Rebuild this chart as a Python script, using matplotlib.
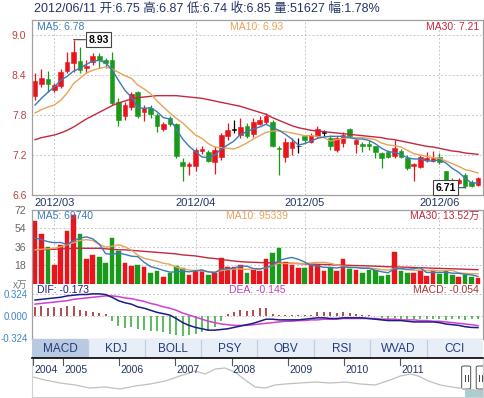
import matplotlib
matplotlib.use('Agg')
import matplotlib.pyplot as plt
from matplotlib.patches import Rectangle, FancyBboxPatch
import numpy as np

plt.rcParams['font.family'] = ['Liberation Sans', 'Noto Sans CJK SC', 'DejaVu Sans']

# ---------------- data ----------------
header_text = "2012/06/11 开:6.75 高:6.87 低:6.74 收:6.85 量:51627 幅:1.78%"
price_ma_labels = ["MA5: 6.78", "MA10: 6.93", "MA30: 7.21"]
vol_ma_labels = ["MA5: 69740", "MA10: 95339", "MA30: 13.52万"]
macd_labels = ["DIF: -0.173", "DEA: -0.145", "MACD: -0.054"]

opens = [8.08, 8.27, 8.34, 8.17, 8.24, 8.46, 8.58, 8.61, 8.50, 8.59,
         8.69, 8.63, 8.62, 8.00, 7.78, 7.92, 8.14, 7.84, 7.91, 7.80,
         7.59, 7.75, 7.66, 7.10, 7.03, 7.03, 7.26, 7.24, 7.09, 7.17,
         7.48, 7.58, 7.50, 7.63, 7.52, 7.67, 7.70, 7.69, 7.31, 7.17,
         7.30, 7.33, 7.48, 7.40, 7.48, 7.53, 7.46, 7.27, 7.38, 7.59,
         7.37, 7.36, 7.36, 7.33, 7.23, 7.25, 7.19, 7.26, 7.16, 7.03,
         7.02, 7.12, 7.11, 7.17, 6.96, 6.83, 6.78, 6.90, 6.80, 6.75]
highs = [8.43, 8.49, 8.46, 8.28, 8.49, 8.75, 8.93, 8.82, 8.63, 8.73,
         8.73, 8.66, 8.75, 8.05, 8.00, 8.15, 8.16, 7.95, 7.95, 7.83,
         7.69, 7.78, 7.68, 7.15, 7.10, 7.30, 7.33, 7.27, 7.33, 7.53,
         7.68, 7.73, 7.75, 7.68, 7.75, 7.78, 7.83, 7.73, 7.33, 7.45,
         7.45, 7.45, 7.50, 7.53, 7.64, 7.58, 7.50, 7.48, 7.55, 7.60,
         7.45, 7.39, 7.43, 7.33, 7.25, 7.27, 7.42, 7.29, 7.20, 7.08,
         7.20, 7.25, 7.26, 7.23, 6.96, 6.86, 6.86, 6.93, 6.82, 6.87]
lows = [8.03, 8.22, 8.15, 8.14, 8.20, 8.43, 8.45, 8.43, 8.43, 8.55,
        8.50, 8.50, 7.95, 7.63, 7.73, 7.88, 7.75, 7.71, 7.75, 7.55,
        7.56, 7.64, 7.15, 6.81, 6.90, 6.96, 7.22, 7.10, 6.91, 7.13,
        7.43, 7.53, 7.45, 7.45, 7.47, 7.65, 7.67, 7.32, 6.90, 7.10,
        7.20, 7.23, 7.38, 7.38, 7.45, 7.48, 7.27, 7.25, 7.32, 7.47,
        7.23, 7.25, 7.28, 7.15, 7.01, 7.15, 7.16, 7.15, 6.98, 6.81,
        7.00, 7.10, 7.09, 7.07, 6.80, 6.77, 6.77, 6.71, 6.72, 6.74]
closes = [8.31, 8.35, 8.26, 8.25, 8.44, 8.59, 8.75, 8.48, 8.54, 8.69,
          8.63, 8.58, 7.98, 7.73, 7.95, 8.12, 7.79, 7.90, 7.81, 7.63,
          7.67, 7.67, 7.18, 7.04, 7.07, 7.27, 7.29, 7.11, 7.28, 7.50,
          7.58, 7.58, 7.62, 7.48, 7.69, 7.73, 7.79, 7.34, 7.29, 7.40,
          7.40, 7.33, 7.42, 7.50, 7.59, 7.53, 7.34, 7.45, 7.50, 7.49,
          7.43, 7.34, 7.34, 7.25, 7.16, 7.17, 7.30, 7.17, 7.00, 7.06,
          7.17, 7.16, 7.16, 7.10, 6.81, 6.79, 6.83, 6.73, 6.74, 6.85]

ma5 = [7.95, 8.05, 8.14, 8.22, 8.32, 8.38, 8.46, 8.50, 8.56, 8.61,
       8.62, 8.58, 8.48, 8.32, 8.17, 8.07, 7.91, 7.90, 7.91, 7.85,
       7.76, 7.74, 7.59, 7.44, 7.33, 7.25, 7.17, 7.16, 7.20, 7.29,
       7.35, 7.41, 7.51, 7.55, 7.59, 7.62, 7.66, 7.61, 7.57, 7.51,
       7.44, 7.35, 7.37, 7.41, 7.45, 7.47, 7.48, 7.48, 7.48, 7.46,
       7.44, 7.44, 7.42, 7.37, 7.30, 7.25, 7.24, 7.21, 7.16, 7.14,
       7.14, 7.11, 7.11, 7.13, 7.08, 7.00, 6.94, 6.85, 6.78, 6.78]
ma10 = [7.83, 7.88, 7.92, 7.95, 8.02, 8.13, 8.27, 8.35, 8.43, 8.47,
        8.50, 8.52, 8.49, 8.44, 8.39, 8.35, 8.25, 8.19, 8.12, 8.01,
        7.92, 7.83, 7.75, 7.68, 7.59, 7.50, 7.45, 7.37, 7.32, 7.31,
        7.30, 7.29, 7.33, 7.38, 7.44, 7.49, 7.54, 7.56, 7.56, 7.55,
        7.53, 7.51, 7.49, 7.49, 7.48, 7.46, 7.41, 7.43, 7.45, 7.46,
        7.46, 7.46, 7.45, 7.43, 7.38, 7.35, 7.34, 7.32, 7.27, 7.22,
        7.20, 7.18, 7.16, 7.15, 7.11, 7.07, 7.03, 6.98, 6.96, 6.93]
ma30 = [7.43, 7.46, 7.48, 7.50, 7.53, 7.57, 7.62, 7.68, 7.74, 7.79,
        7.84, 7.89, 7.94, 7.98, 8.01, 8.04, 8.06, 8.07, 8.08, 8.09,
        8.09, 8.09, 8.09, 8.08, 8.07, 8.06, 8.05, 8.03, 8.01, 7.99,
        7.97, 7.95, 7.93, 7.90, 7.87, 7.84, 7.81, 7.76, 7.72, 7.68,
        7.64, 7.61, 7.59, 7.57, 7.56, 7.55, 7.54, 7.53, 7.52, 7.51,
        7.50, 7.49, 7.48, 7.47, 7.46, 7.44, 7.43, 7.41, 7.39, 7.37,
        7.35, 7.33, 7.32, 7.30, 7.28, 7.26, 7.25, 7.23, 7.22, 7.21]

volumes = [61.5, 48.5, 35.5, 18.0, 37.7, 51.4, 67.0, 48.5, 23.7, 28.0,
           25.7, 20.4, 44.3, 31.8, 20.4, 17.1, 18.1, 16.5, 10.6, 12.2,
           6.7, 10.0, 17.1, 14.9, 8.3, 12.6, 13.2, 8.3, 10.6, 24.7,
           15.9, 15.9, 18.1, 10.6, 13.2, 12.5, 23.7, 29.6, 34.5, 21.4,
           18.1, 15.5, 15.5, 18.1, 18.1, 12.2, 14.9, 12.5, 23.7, 14.2,
           13.2, 10.6, 13.2, 13.2, 7.3, 8.3, 31.2, 12.5, 10.0, 10.6,
           13.2, 7.3, 13.2, 9.3, 12.5, 8.3, 6.7, 8.3, 6.1, 5.2]
vol_ma5 = [44.6, 43.0, 41.0, 40.0, 40.2, 38.2, 41.9, 44.5, 45.7, 43.7,
           38.6, 29.3, 28.4, 30.0, 28.5, 26.8, 26.3, 20.8, 16.5, 14.9,
           12.8, 11.2, 11.3, 12.2, 11.4, 12.6, 13.2, 11.5, 10.6, 13.9,
           14.5, 15.1, 17.0, 17.0, 14.7, 14.1, 15.6, 17.9, 22.7, 24.3,
           25.5, 23.8, 21.0, 17.7, 17.1, 15.9, 15.8, 15.2, 16.3, 15.5,
           15.7, 14.8, 15.0, 12.9, 11.5, 10.5, 14.6, 14.5, 13.9, 14.5,
           15.5, 10.7, 10.9, 10.7, 11.1, 10.1, 10.0, 9.0, 8.4, 7.0]
vol_ma10 = [33.0, 33.5, 34.0, 34.5, 36.0, 38.0, 40.0, 42.0, 43.0, 42.0,
            38.4, 35.6, 36.5, 37.9, 36.1, 32.7, 27.8, 24.6, 23.3, 21.7,
            19.8, 18.8, 16.1, 14.4, 13.2, 12.7, 12.2, 11.4, 11.4, 12.6,
            13.6, 14.2, 14.3, 13.8, 14.3, 14.3, 15.4, 17.5, 19.9, 19.5,
            19.8, 19.7, 19.5, 20.2, 20.7, 20.7, 19.8, 18.1, 17.0, 16.3,
            15.8, 15.3, 15.1, 14.6, 13.5, 13.1, 14.7, 14.7, 13.4, 13.0,
            13.0, 12.7, 12.7, 12.3, 12.8, 12.8, 10.4, 9.9, 9.6, 9.5]
vol_ma30 = [33.0, 33.0, 33.5, 33.5, 34.0, 34.0, 34.5, 34.5, 34.5, 34.5,
            34.5, 34.0, 33.5, 33.0, 33.0, 32.5, 32.0, 31.5, 31.0, 30.5,
            30.0, 29.5, 29.0, 28.0, 27.5, 27.0, 26.0, 25.0, 24.5, 23.5,
            22.8, 22.0, 21.4, 21.0, 20.8, 20.5, 20.3, 20.2, 20.2, 20.0,
            19.8, 19.5, 19.2, 19.0, 18.8, 18.6, 18.4, 18.1, 18.0, 17.8,
            17.6, 17.4, 17.2, 17.0, 16.7, 16.4, 16.3, 16.1, 15.9, 15.7,
            15.5, 15.2, 15.0, 14.8, 14.6, 14.4, 14.2, 14.0, 13.7, 13.5]

dif = [0.23, 0.24, 0.25, 0.26, 0.27, 0.29, 0.30, 0.31, 0.31, 0.32,
       0.32, 0.31, 0.27, 0.22, 0.19, 0.17, 0.13, 0.11, 0.08, 0.05,
       0.03, 0.01, -0.04, -0.10, -0.14, -0.17, -0.19, -0.21, -0.21, -0.20,
       -0.19, -0.17, -0.15, -0.13, -0.11, -0.08, -0.05, -0.05, -0.06, -0.06,
       -0.06, -0.06, -0.05, -0.04, -0.03, -0.03, -0.04, -0.04, -0.03, -0.03,
       -0.03, -0.03, -0.04, -0.05, -0.06, -0.07, -0.07, -0.07, -0.08, -0.09,
       -0.09, -0.09, -0.09, -0.10, -0.12, -0.13, -0.14, -0.16, -0.17, -0.173]
dea = [0.17, 0.18, 0.19, 0.20, 0.21, 0.22, 0.24, 0.25, 0.26, 0.27,
       0.28, 0.29, 0.29, 0.28, 0.26, 0.25, 0.23, 0.21, 0.18, 0.16,
       0.13, 0.11, 0.08, 0.04, 0.01, -0.02, -0.05, -0.08, -0.10, -0.12,
       -0.13, -0.14, -0.14, -0.14, -0.13, -0.12, -0.11, -0.10, -0.09, -0.08,
       -0.08, -0.07, -0.07, -0.06, -0.06, -0.05, -0.05, -0.05, -0.04, -0.04,
       -0.04, -0.04, -0.04, -0.04, -0.05, -0.05, -0.05, -0.06, -0.06, -0.06,
       -0.07, -0.07, -0.08, -0.08, -0.09, -0.10, -0.11, -0.12, -0.13, -0.145]
macd_hist = [0.13, 0.14, 0.12, 0.13, 0.11, 0.14, 0.14, 0.08, 0.07, 0.06,
             0.04, 0.02, -0.07, -0.15, -0.18, -0.17, -0.19, -0.21, -0.22, -0.22,
             -0.24, -0.26, -0.28, -0.30, -0.28, -0.26, -0.24, -0.22, -0.17, -0.08,
             0.02, 0.05, 0.08, 0.07, 0.09, 0.11, 0.12, 0.02, 0.01, 0.01,
             0.01, 0.01, 0.01, 0.01, 0.06, 0.05, 0.05, 0.04, 0.05, 0.04,
             0.03, 0.01, 0.01, 0.00, -0.03, -0.04, -0.03, -0.04, -0.05, -0.05,
             -0.04, -0.04, -0.04, -0.05, -0.06, -0.05, -0.05, -0.06, -0.05, -0.054]

month_labels = ["2012/03", "2012/04", "2012/05", "2012/06"]
month_idx = [3, 25, 42, 63]

price_ticks = [6.6, 7.2, 7.8, 8.4, 9.0]
vol_ticks = [18, 36, 54, 72]
macd_ticks = [-0.324, 0.0, 0.324]

tabs = ["MACD", "KDJ", "BOLL", "PSY", "OBV", "RSI", "WVAD", "CCI"]

hist_years = [2004.47, 2004.68, 2004.95, 2005.22, 2005.48, 2005.75, 2006.02, 2006.28,
              2006.55, 2006.82, 2007.08, 2007.35, 2007.53, 2007.71, 2007.88, 2008.06,
              2008.24, 2008.42, 2008.60, 2008.77, 2008.95, 2009.22, 2009.49, 2009.75,
              2010.02, 2010.29, 2010.55, 2010.82, 2011.00, 2011.18, 2011.32, 2011.50,
              2011.71, 2011.92, 2012.15, 2012.33, 2012.46]
hist_level = [20, 17, 14, 12, 9, 10, 8, 11, 13, 16, 21, 26, 23, 28, 29, 25, 17, 10,
              9, 12, 13, 14, 15, 14, 15, 13, 12, 17, 21, 23, 21, 16, 12, 10, 8, 7, 6]
year_labels = ["2004", "2005", "2006", "2007", "2008", "2009", "2010", "2011"]
year_pos = [2004.47, 2005, 2006, 2007, 2008, 2009, 2010, 2011]

# ---------------- styling ----------------
RED = '#e8161c'
GREEN = '#1a9a1a'
C_MA5 = '#3d7ab8'
C_MA10 = '#e8a25a'
C_MA30 = '#c4283e'
GRID = '#c8c8c8'
BORDER = '#a0a0a0'
NAVY = '#233366'

W, H = 485, 398
fig = plt.figure(figsize=(W / 100, H / 100), dpi=100)
fig.patch.set_facecolor('white')


def px_axes(x0, y0, x1, y1):
    return fig.add_axes([x0 / W, 1 - y1 / H, (x1 - x0) / W, (y1 - y0) / H])


def ftext(x, y, s, **kw):
    return fig.text(x / W, 1 - y / H, s, **kw)


n = len(closes)
idx = np.arange(n)
XL = (-0.47, 69.78)

colors = []
for o, c in zip(opens, closes):
    if c > o:
        colors.append(RED)
    elif c < o:
        colors.append(GREEN)
    else:
        colors.append('black')
vcolors = [RED if c >= o else GREEN for o, c in zip(opens, closes)]

# header
ftext(34, 9, header_text, fontsize=9, color=NAVY, va='center', ha='left')

# ---------------- price panel ----------------
ax = px_axes(32, 20, 483, 195)
ax.set_xlim(*XL)
ax.set_ylim(6.6, 9.225)
for m in month_idx:
    ax.axvline(m, color=GRID, lw=0.7, ls=(0, (2, 2)), zorder=0)
for t in price_ticks[1:]:
    ax.axhline(t, color=GRID, lw=0.7, ls=(0, (2, 2)), zorder=0)
ax.vlines(idx, lows, highs, colors=colors, lw=0.9, zorder=2)
body_b = [min(o, c) for o, c in zip(opens, closes)]
body_h = [max(abs(c - o), 0.012) for o, c in zip(opens, closes)]
ax.bar(idx, body_h, bottom=body_b, width=0.72, color=colors, edgecolor=colors,
       linewidth=0.4, zorder=3)
ax.plot(idx, ma30, color=C_MA30, lw=1.0, zorder=4)
ax.plot(idx, ma10, color=C_MA10, lw=1.0, zorder=4)
ax.plot(idx, ma5, color=C_MA5, lw=1.0, zorder=4)
ax.set_yticks(price_ticks)
ax.set_yticklabels([f"{t:.1f}" for t in price_ticks])
ax.tick_params(axis='y', length=0, pad=4, labelsize=7.5, labelcolor='#c04040')
ax.set_xticks([])
for s in ax.spines.values():
    s.set_color(BORDER)
    s.set_linewidth(0.9)

hi_i = int(np.argmax(highs))
ax.annotate(f"{highs[hi_i]:.2f}", xy=(hi_i, highs[hi_i]), xytext=(hi_i + 3.9, highs[hi_i]),
            fontsize=7.5, fontweight='bold', color='black', ha='center', va='center',
            bbox=dict(boxstyle='square,pad=0.25', fc='white', ec='#444444', lw=0.8),
            arrowprops=dict(arrowstyle='-', color='#444444', lw=0.8, shrinkA=0, shrinkB=0),
            zorder=6, annotation_clip=False)
lo_i = int(np.argmin(lows))
ax.annotate(f"{lows[lo_i]:.2f}", xy=(lo_i, lows[lo_i]), xytext=(lo_i - 3.05, lows[lo_i]),
            fontsize=7.5, fontweight='bold', color='black', ha='center', va='center',
            bbox=dict(boxstyle='square,pad=0.25', fc='white', ec='#444444', lw=0.8),
            arrowprops=dict(arrowstyle='-', color='#444444', lw=0.8, shrinkA=0, shrinkB=0),
            zorder=6, annotation_clip=False)

ftext(37, 27, price_ma_labels[0], fontsize=7.5, color=C_MA5, va='center', ha='left')
ftext(230, 27, price_ma_labels[1], fontsize=7.5, color=C_MA10, va='center', ha='left')
ftext(479, 27, price_ma_labels[2], fontsize=7.5, color=C_MA30, va='center', ha='right')

# month labels
for m, lab in zip(month_idx, month_labels):
    xp = 32 + (m - XL[0]) / (XL[1] - XL[0]) * 451
    ftext(xp, 203, lab, fontsize=8, color=NAVY, va='center', ha='center')

# ---------------- volume panel ----------------
axv = px_axes(32, 210, 483, 283.5)
axv.set_xlim(*XL)
axv.set_ylim(0, 72)
for m in month_idx:
    axv.axvline(m, color=GRID, lw=0.7, ls=(0, (2, 2)), zorder=0)
for t in vol_ticks[:-1]:
    axv.axhline(t, color=GRID, lw=0.7, ls=(0, (2, 2)), zorder=0)
axv.bar(idx, volumes, width=0.72, color=vcolors, edgecolor=vcolors, linewidth=0.3, zorder=2)
axv.plot(idx, vol_ma30, color=C_MA30, lw=1.0, zorder=3)
axv.plot(idx, vol_ma10, color=C_MA10, lw=1.0, zorder=3)
axv.plot(idx, vol_ma5, color=C_MA5, lw=1.0, zorder=3)
axv.set_yticks(vol_ticks)
axv.set_yticklabels([str(t) for t in vol_ticks])
axv.tick_params(axis='y', length=0, pad=4, labelsize=7.5, labelcolor='#666666')
axv.set_xticks([])
for k, s in axv.spines.items():
    s.set_color(BORDER)
    s.set_linewidth(0.9)
axv.spines['bottom'].set_visible(False)
ftext(37, 216, vol_ma_labels[0], fontsize=7.5, color=C_MA5, va='center', ha='left')
ftext(226, 216, vol_ma_labels[1], fontsize=7.5, color=C_MA10, va='center', ha='left')
ftext(479, 216, vol_ma_labels[2], fontsize=7.5, color=C_MA30, va='center', ha='right')
ftext(28, 285, "x万", fontsize=7, color='#777777', va='center', ha='right')

# ---------------- MACD panel ----------------
axm = px_axes(32, 283.5, 483, 339)
axm.set_xlim(*XL)
axm.set_ylim(-0.339, 0.471)
axm.axhline(0.324, color=GRID, lw=0.7, ls=(0, (2, 2)), zorder=0)
axm.axhline(0.0, color='#b0b0b0', lw=0.7, ls=(0, (1, 2)), zorder=0)
hcol = ['#9a1c1c' if v >= 0 else '#33a833' for v in macd_hist]
axm.vlines(idx, 0, macd_hist, colors=hcol, lw=1.1, zorder=2)
axm.plot(idx, dea, color='#d040d0', lw=1.1, zorder=3)
axm.plot(idx, dif, color='#1c1c86', lw=1.1, zorder=3)
axm.set_yticks(macd_ticks)
axm.set_yticklabels([f"{t:.3f}" for t in macd_ticks])
axm.tick_params(axis='y', length=0, pad=3, labelsize=7, labelcolor='#3f86c6')
axm.set_xticks([])
for k, s in axm.spines.items():
    s.set_color(BORDER)
    s.set_linewidth(0.9)
axm.spines['top'].set_visible(False)
ftext(37, 290, macd_labels[0], fontsize=7.5, color='#1c1c86', va='center', ha='left')
ftext(229, 290, macd_labels[1], fontsize=7.5, color='#c040c0', va='center', ha='left')
ftext(479, 290, macd_labels[2], fontsize=7.5, color='#b03030', va='center', ha='right')

# ---------------- tabs ----------------
axt = px_axes(32, 339, 483, 358)
axt.set_xlim(0, len(tabs))
axt.set_ylim(0, 1)
axt.axis('off')
for i, lab in enumerate(tabs):
    fc = '#b9c9e2' if i == 0 else '#e8eef8'
    axt.add_patch(Rectangle((i, 0), 1, 1, fc=fc, ec='none'))
    if i > 0:
        axt.plot([i, i], [0.05, 0.95], color='#c3cde0', lw=0.9)
    axt.text(i + 0.5, 0.5, lab, ha='center', va='center', fontsize=8.5, color='#233a7a')
axt.plot([0, len(tabs)], [0, 0], color='black', lw=1.2, clip_on=False)

# ---------------- thumbnail ----------------
axh = px_axes(32, 359, 483, 397)
axh.set_xlim(2004.45, 2012.47)
axh.set_ylim(0, 38)
axh.plot(hist_years, hist_level, color='#c0c0c0', lw=0.9)
axh.fill_between([2012.15, 2012.47], 0, 7, color='#a9cdd3', lw=0)
axh.set_xticks([])
axh.set_yticks([])
for s in axh.spines.values():
    s.set_color('#d0d0d0')
    s.set_linewidth(0.8)
axh.spines['top'].set_visible(False)
for yp, lab in zip(year_pos, year_labels):
    axh.plot([yp, yp], [38, 32], color='#555555', lw=0.8)
    axh.text(yp + 0.02, 27, lab, fontsize=7.5, color=NAVY, ha='left', va='center')
for hx in [2012.17, 2012.43]:
    axh.add_patch(FancyBboxPatch((hx - 0.08, 8), 0.16, 23,
                                 boxstyle='round,pad=0.0,rounding_size=0.05',
                                 fc='white', ec='#666666', lw=0.8, clip_on=False,
                                 mutation_aspect=20))
    axh.plot([hx - 0.025, hx - 0.025], [16, 22], color='#444444', lw=0.7, clip_on=False)
    axh.plot([hx + 0.025, hx + 0.025], [16, 22], color='#444444', lw=0.7, clip_on=False)

fig.savefig('out.png', dpi=100, facecolor='white')
